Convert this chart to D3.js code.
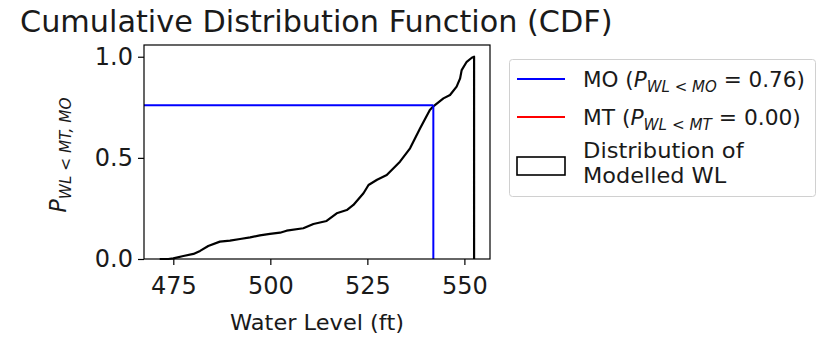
<!DOCTYPE html>
<html><head><meta charset="utf-8">
<script src="https://cdn.jsdelivr.net/npm/d3@7"></script>
<style>body{margin:0;background:#fff}svg{display:block}text{font-family:"DejaVu Sans",sans-serif;fill:#1a1a1a}</style>
</head><body>
<svg id="c" width="825" height="337"></svg>
<script>
// Data
const wlValues  = [471.5,473.7,475.0,477.6,480.2,481.9,484.0,487.0,489.6,492.2,494.8,497.3,499.9,502.5,504.2,508.5,511.1,514.5,517.1,519.7,521.4,524.0,525.3,527.5,530.0,533.4,536.0,538.6,541.1,542.0,544.6,546.3,548.0,548.9,549.3,550.6,551.9,552.5];
const cdfValues = [0.0,0.0,0.003,0.015,0.025,0.040,0.064,0.086,0.091,0.099,0.107,0.117,0.124,0.130,0.140,0.152,0.173,0.188,0.226,0.242,0.267,0.325,0.366,0.392,0.415,0.481,0.547,0.646,0.737,0.755,0.794,0.811,0.852,0.893,0.934,0.975,0.995,1.0];
const moValue = 542.0, moProb = 0.76;
const mtProb = 0.00;
const xTicks = [475,500,525,550];
const yTicks = [0.0,0.5,1.0];

const svg = d3.select("#c");
const L=144,R=490,T=45,B=259;
const x = d3.scaleLinear().domain([467.45,556.6]).range([L,R]);
const y = d3.scaleLinear().domain([0,1.058]).range([B,T]);

function fit(sel, w){
  const bw = sel.node().getBBox().width;
  return bw ? w/bw : 1;
}

// curve
const pts = wlValues.map((v,i)=>[v,cdfValues[i]]);
pts.push([wlValues[wlValues.length-1],0]);
svg.append("path").attr("d", d3.line().x(d=>x(d[0])).y(d=>y(d[1]))(pts))
  .attr("fill","none").attr("stroke","#000").attr("stroke-width",2.2).attr("stroke-linejoin","round");

// MO lines
svg.append("line").attr("x1",L).attr("x2",x(moValue)).attr("y1",y(moProb)).attr("y2",y(moProb)).attr("stroke","#0000ff").attr("stroke-width",2);
svg.append("line").attr("x1",x(moValue)).attr("x2",x(moValue)).attr("y1",y(0)).attr("y2",y(moProb)).attr("stroke","#0000ff").attr("stroke-width",2);

// frame
svg.append("rect").attr("x",L).attr("y",T).attr("width",R-L).attr("height",B-T).attr("fill","none").attr("stroke","#000").attr("stroke-width",1.2);

// axes
const xa = svg.append("g").attr("transform",`translate(0,${B})`).call(d3.axisBottom(x).tickValues(xTicks).tickFormat(d3.format("d")).tickSize(6).tickPadding(6));
const ya = svg.append("g").attr("transform",`translate(${L},0)`).call(d3.axisLeft(y).tickValues(yTicks).tickFormat(d3.format(".1f")).tickSize(6).tickPadding(5));
[xa,ya].forEach(a=>{a.select(".domain").remove();a.selectAll("line").attr("stroke","#000").attr("stroke-width",1.2);
  a.selectAll("text").attr("font-size",24).attr("font-family","DejaVu Sans").attr("fill","#1a1a1a");});
xa.selectAll("text").attr("dy","0.95em");

// title
const tg = svg.append("g");
const tt = tg.append("text").attr("font-size",30).text("Cumulative Distribution Function (CDF)");
tg.attr("transform",`translate(20,32) scale(${fit(tt,593)},1)`);

// x label
const xg = svg.append("g");
const xt = xg.append("text").attr("font-size",21).attr("text-anchor","middle").text("Water Level (ft)");
xg.attr("transform",`translate(317,330) scale(${fit(xt,174)},1)`);

// y label
const yg = svg.append("g");
const yt = yg.append("text").attr("font-size",23).attr("text-anchor","middle");
yt.append("tspan").attr("font-style","italic").text("P");
const ys = yt.append("tspan").attr("font-size",16).attr("dy",5);
ys.append("tspan").attr("font-style","italic").text("WL");
ys.append("tspan").text(" < ");
ys.append("tspan").attr("font-style","italic").text("MT, MO");
yg.attr("transform",`translate(66,155) rotate(-90) scale(${fit(yt,115)},1)`);

// legend
const lg = svg.append("g");
lg.append("rect").attr("x",509.5).attr("y",59.5).attr("width",306).attr("height",137).attr("rx",3)
  .attr("fill","#fff").attr("stroke","#d0d0d0").attr("stroke-width",1);
lg.append("line").attr("x1",517).attr("x2",565).attr("y1",79).attr("y2",79).attr("stroke","#0000ff").attr("stroke-width",2);
lg.append("line").attr("x1",517).attr("x2",565).attr("y1",117).attr("y2",117).attr("stroke","#ff0000").attr("stroke-width",2);
lg.append("rect").attr("x",517).attr("y",157).attr("width",48).attr("height",18).attr("fill","#fff").attr("stroke","#000").attr("stroke-width",1.6);

function mathEntry(yy, name, sub, val, w){
  const g = lg.append("g");
  const t = g.append("text").attr("font-size",21.5);
  t.append("tspan").text(name+" (");
  t.append("tspan").attr("font-style","italic").text("P");
  const s = t.append("tspan").attr("font-size",15).attr("dy",5);
  s.append("tspan").attr("font-style","italic").text("WL");
  s.append("tspan").text(" < ");
  s.append("tspan").attr("font-style","italic").text(sub);
  t.append("tspan").attr("dy",-5).text(" = "+val+")");
  g.attr("transform",`translate(583,${yy}) scale(${fit(t,w)},1)`);
}
mathEntry(87,"MO","MO",moProb.toFixed(2),222);
mathEntry(125,"MT","MT",mtProb.toFixed(2),218);
[["Distribution of",158,162],["Modelled WL",183,144]].forEach(([s,yy,w])=>{
  const g=lg.append("g"); const t=g.append("text").attr("font-size",22).text(s);
  g.attr("transform",`translate(583,${yy}) scale(${fit(t,w)},1)`);
});
</script></body></html>
